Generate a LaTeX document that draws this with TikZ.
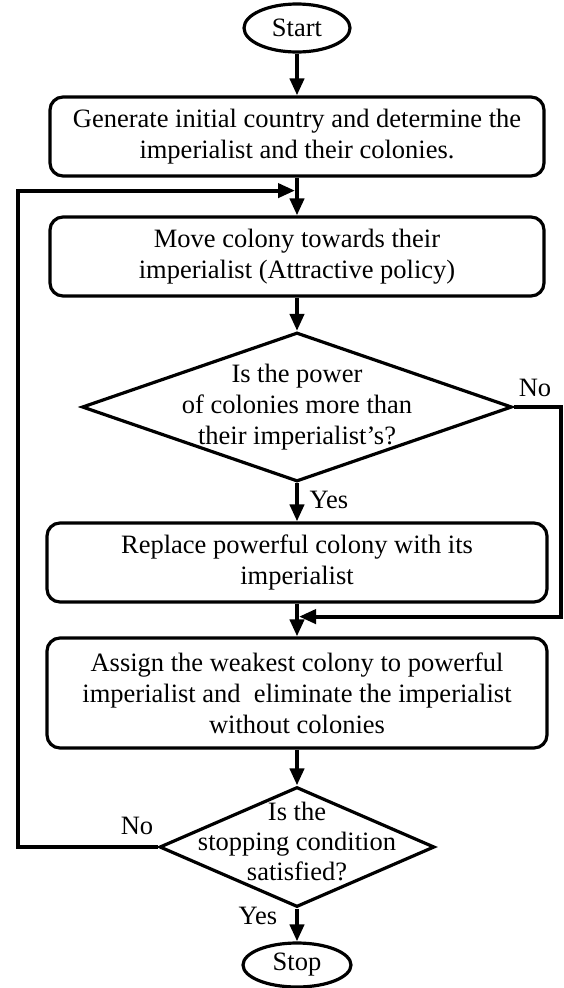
\documentclass[tikz,border=0pt]{standalone}
\usepackage{fontspec}
\setmainfont{Liberation Serif}
\usetikzlibrary{shapes.geometric,arrows.meta,calc}
\begin{document}
\begin{tikzpicture}[x=1pt,y=-1pt,
  every node/.style={font=\fontsize{26.5}{31}\selectfont},
  procbox/.style={draw,line width=3.2pt,rounded corners=13pt,minimum height=79pt,align=center,inner sep=0pt},
  term/.style={draw,ellipse,line width=3.2pt,inner sep=0pt},
  decision/.style={draw,diamond,line width=3.2pt,inner sep=0pt},
  dtext/.style={align=center,inner sep=0pt},
  flow/.style={line width=4pt,-{Triangle[length=17pt,width=14pt]}},
  tag/.style={inner sep=0pt}
]
\useasboundingbox (0,0) rectangle (564,988);

% main column of steps
\node[term,minimum width=106pt,minimum height=48pt] (start) at (297,28) {Start};
\node[procbox,minimum width=494pt] (b1) at (297,136.5)
  {Generate initial country and determine the\\imperialist and their colonies.};
\node[procbox,minimum width=494pt] (b2) at (297,256.5)
  {Move colony towards their\\imperialist (Attractive policy)};
\node[decision,minimum width=430pt,minimum height=149pt] (d1) at (297,407) {};
\node[dtext] (d1t) at (d1.center) {Is the power\\of colonies more than\\their imperialist’s?};
\node[procbox,minimum width=500pt] (b3) at (297,562.5)
  {Replace powerful colony with its\\imperialist};
\node[procbox,minimum width=500pt,minimum height=110pt] (b4) at (297,693)
  {Assign the weakest colony to powerful\\imperialist and~ eliminate the imperialist\\without colonies};
\node[decision,minimum width=275pt,minimum height=120pt] (d2) at (297,847) {};
\node[dtext,font=\fontsize{26.5}{30}\selectfont] (d2t) at ([yshift=6pt]d2.center)
  {Is the\\stopping condition\\satisfied?};
\node[term,minimum width=108pt,minimum height=44pt] (stop) at (297,965) {Stop};

% straight flow
\draw[flow] (start) -- (b1);
\draw[flow] (b1) -- (b2);
\draw[flow] (b2) -- (d1);
\draw[flow] (d1) -- (b3);
\draw[flow] (b3) -- (b4);
\draw[flow] (b4) -- (d2);
\draw[flow] (d2) -- (stop);

% junctions where the loops re-enter
\path (b1.south) ++(0,13) coordinate (j1);
\path (b3.south) ++(0,13) coordinate (j2);
\coordinate (lc) at (18,847);
\coordinate (rc) at (561,407);

% loops
\draw[flow] (d2.west) -- (lc) |- ([xshift=-2pt]j1);
\draw[flow] (d1.east) -- (rc) |- ([xshift=2pt]j2);

% branch labels
\node[tag] (no1) at (535,388) {No};
\node[tag] (yes1) at (329,500) {Yes};
\node[tag] (no2) at (137,826) {No};
\node[tag] (yes2) at (258,916) {Yes};
\end{tikzpicture}
\end{document}
